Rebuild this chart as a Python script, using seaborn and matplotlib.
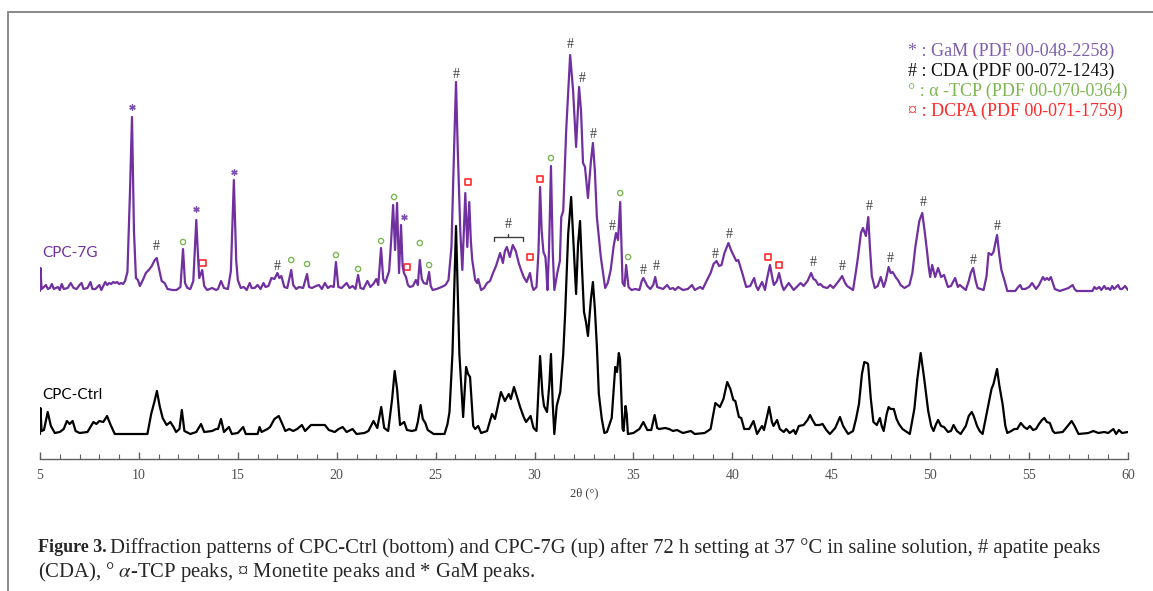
import numpy as np
import pandas as pd
import matplotlib
matplotlib.use("Agg")
import matplotlib.pyplot as plt
from matplotlib.lines import Line2D
import seaborn as sns

# ---- data (2theta in degrees, intensity in a.u. above each pattern's baseline) ----
ctrl_2theta = [5.00, 5.02, 5.08, 5.20, 5.39, 5.55, 5.75, 6.0, 6.2, 6.36, 6.5, 6.65, 6.8, 7.0, 7.4, 7.7, 7.85, 8.0,
               8.2, 8.39, 8.55, 8.78, 10.43, 10.62, 10.78, 10.91, 11.05, 11.2, 11.4, 11.59, 11.75, 11.88, 12.05,
               12.17, 12.3, 12.6, 12.9, 13.14, 13.3, 13.7, 13.9, 14.0, 14.15, 14.3, 14.55, 14.7, 15.0, 15.27, 15.4,
               16.0, 16.1, 16.2, 16.5, 16.63, 16.85, 17.07, 17.25, 17.4, 17.6, 17.8, 18.0, 18.24, 18.4, 18.7, 19.0,
               19.4, 19.6, 19.9, 20.1, 20.3, 20.5, 20.8, 21.0, 21.4, 21.6, 21.86, 22.05, 22.25, 22.4, 22.6, 22.8,
               22.93, 23.05, 23.2, 23.41, 23.55, 23.8, 24.0, 24.1, 24.24, 24.35, 24.48, 24.6, 24.9, 25.45, 25.6,
               25.7, 25.85, 26.03, 26.2, 26.39, 26.54, 26.64, 26.74, 26.9, 27.0, 27.15, 27.3, 27.6, 27.85, 28.0,
               28.3, 28.5, 28.7, 28.8, 28.96, 29.1, 29.27, 29.45, 29.57, 29.8, 29.95, 30.1, 30.28, 30.4, 30.48,
               30.63, 30.75, 30.83, 30.92, 31.0, 31.12, 31.3, 31.45, 31.55, 31.7, 31.85, 32.0, 32.1, 32.2, 32.3,
               32.4, 32.5, 32.6, 32.7, 32.85, 32.95, 33.05, 33.15, 33.25, 33.4, 33.53, 33.66, 33.9, 34.08, 34.17,
               34.26, 34.32, 34.45, 34.5, 34.6, 34.66, 34.72, 35.0, 35.3, 35.5, 35.7, 35.9, 36.07, 36.2, 36.3, 36.6,
               36.8, 37.0, 37.2, 37.5, 37.9, 38.1, 38.6, 38.9, 39.14, 39.37, 39.55, 39.74, 39.9, 40.05, 40.15,
               40.33, 40.45, 40.6, 40.85, 41.07, 41.25, 41.4, 41.5, 41.6, 41.86, 42.0, 42.08, 42.26, 42.4, 42.6,
               42.72, 42.9, 43.1, 43.2, 43.36, 43.6, 43.8, 43.93, 44.05, 44.2, 44.4, 44.56, 44.75, 44.93, 45.2,
               45.44, 45.6, 45.85, 46.1, 46.25, 46.4, 46.55, 46.67, 46.8, 46.86, 47.0, 47.13, 47.3, 47.46, 47.55,
               47.65, 47.8, 47.9, 48.0, 48.16, 48.3, 48.42, 48.6, 48.97, 49.2, 49.35, 49.52, 49.7, 49.9, 50.05,
               50.17, 50.3, 50.4, 50.55, 50.7, 50.9, 51.05, 51.18, 51.35, 51.54, 51.8, 51.95, 52.1, 52.2, 52.37,
               52.5, 52.65, 52.9, 53.1, 53.2, 53.38, 53.5, 53.66, 53.8, 53.9, 54.1, 54.26, 54.4, 54.58, 54.75, 54.9,
               55.04, 55.2, 55.35, 55.5, 55.65, 55.77, 55.9, 56.05, 56.2, 56.3, 56.7, 56.95, 57.15, 57.3, 57.5,
               58.0, 58.25, 58.5, 58.8, 59.0, 59.26, 59.4, 59.54, 59.7, 60.0]
ctrl_int = [0, 26, 3, 4, 22, 8, 1, 2, 5, 13, 10, 13, 3, 1, 2, 12, 10, 13,
            12, 18, 10, 0, 0, 20, 32, 43, 28, 16, 9, 12, 7, 2, 5,
            24, 3, 0, 2, 10, 2, 3, 5, 5, 15, 2, 7, 0, 1, 7, 0,
            0, 7, 2, 5, 7, 15, 18, 10, 3, 5, 3, 5, 9, 3, 9, 9,
            9, 4, 2, 5, 7, 2, 5, 0, 1, 3, 13, 6, 27, 6, 3, 35,
            63, 45, 9, 12, 4, 3, 4, 12, 29, 15, 11, 4, 0, 0, 10,
            22, 80, 208, 80, 17, 67, 60, 57, 8, 5, 8, 1, 3, 20, 15,
            42, 33, 40, 35, 47, 38, 27, 17, 12, 18, 6, 3, 78, 40, 28,
            22, 50, 80, 30, 0, 28, 42, 80, 122, 200, 237, 180, 140, 190, 213,
            165, 122, 112, 98, 135, 152, 125, 88, 40, 15, 1, 2, 16, 67, 62,
            81, 75, 5, 3, 28, 20, 0, 1, 5, 12, 4, 4, 19, 6, 5, 6,
            5, 3, 4, 1, 3, 0, 1, 5, 31, 27, 35, 52, 45, 34, 33,
            17, 16, 5, 5, 13, 0, 5, 8, 4, 27, 12, 8, 14, 5, 2,
            5, 1, 4, 0, 8, 9, 14, 19, 14, 9, 9, 10, 4, 0, 6,
            17, 8, 0, 3, 15, 30, 60, 72, 71, 70, 35, 12, 9, 16, 8,
            3, 20, 27, 25, 25, 15, 10, 5, 0, 25, 55, 81, 55, 23, 8,
            3, 10, 14, 8, 7, 2, 3, 9, 3, 0, 8, 18, 22, 18, 8,
            3, 0, 25, 45, 50, 65, 48, 30, 8, 1, 3, 5, 5, 11, 7, 5,
            8, 4, 5, 10, 14, 16, 12, 11, 3, 1, 2, 8, 13, 8, 0,
            1, 3, 1, 2, 1, 5, 0, 4, 1, 2]

g7_2theta = [5.00, 5.02, 5.08, 5.2, 5.3, 5.4, 5.5, 5.6, 5.7, 5.9, 6.0, 6.1, 6.2, 6.4, 6.55, 6.7, 6.85, 7.0, 7.1,
             7.2, 7.4, 7.55, 7.65, 7.8, 8.0, 8.1, 8.3, 8.4, 8.5, 8.6, 8.7, 8.8, 8.9, 9.0, 9.1, 9.2, 9.3, 9.42,
             9.55, 9.65, 9.75, 9.85, 9.95, 10.05, 10.2, 10.35, 10.5, 10.65, 10.8, 10.9, 11.0, 11.15, 11.3, 11.45,
             11.7, 11.9, 12.1, 12.23, 12.33, 12.45, 12.6, 12.75, 12.9, 13.0, 13.05, 13.2, 13.3, 13.45, 13.7,
             13.9, 14.0, 14.15, 14.3, 14.5, 14.65, 14.8, 14.92, 15.0, 15.15, 15.3, 15.45, 15.6, 15.7, 15.85, 16.0,
             16.15, 16.3, 16.4, 16.55, 16.7, 16.85, 17.0, 17.1, 17.2, 17.35, 17.5, 17.7, 17.8, 17.95, 18.1, 18.3,
             18.5, 18.6, 18.75, 18.95, 19.1, 19.25, 19.4, 19.55, 19.7, 19.85, 19.96, 20.08, 20.25, 20.5, 20.65,
             20.8, 20.95, 21.08, 21.2, 21.35, 21.55, 21.7, 21.85, 22.0, 22.1, 22.24, 22.35, 22.45, 22.65, 22.75,
             22.85, 22.95, 23.05, 23.15, 23.25, 23.33, 23.4, 23.5, 23.6, 23.7, 23.85, 24.0, 24.1, 24.2, 24.3,
             24.4, 24.55, 24.67, 24.75, 24.85, 25.05, 25.3, 25.5, 25.65, 25.8, 25.93, 26.03, 26.12, 26.25, 26.35,
             26.5, 26.6, 26.7, 26.78, 26.85, 27.0, 27.1, 27.15, 27.3, 27.45, 27.6, 27.75, 27.9, 28.05, 28.26,
             28.4, 28.5, 28.6, 28.75, 28.9, 29.05, 29.2, 29.3, 29.45, 29.6, 29.77, 29.88, 29.95, 30.1, 30.2,
             30.28, 30.36, 30.45, 30.55, 30.6, 30.65, 30.73, 30.83, 30.92, 31.0, 31.15, 31.28, 31.35, 31.45,
             31.6, 31.8, 31.95, 32.1, 32.25, 32.35, 32.45, 32.55, 32.7, 32.85, 32.95, 33.05, 33.15, 33.35, 33.57,
             33.7, 33.85, 34.0, 34.12, 34.22, 34.33, 34.45, 34.55, 34.63, 34.75, 34.9, 35.1, 35.3, 35.42, 35.5,
             35.6, 35.7, 35.85, 36.0, 36.1, 36.2, 36.35, 36.5, 36.7, 36.85, 37.0, 37.1, 37.26, 37.5, 37.75,
             37.96, 38.1, 38.37, 38.5, 38.72, 38.9, 39.05, 39.2, 39.33, 39.45, 39.6, 39.8, 39.95, 40.05, 40.2,
             40.3, 40.5, 40.7, 40.9, 41.1, 41.2, 41.3, 41.5, 41.65, 41.75, 41.9, 42.05, 42.1, 42.25, 42.36, 42.5,
             42.6, 42.85, 43.1, 43.3, 43.45, 43.6, 43.8, 43.98, 44.1, 44.2, 44.35, 44.45, 44.6, 44.8, 44.95,
             45.1, 45.3, 45.45, 45.55, 45.7, 45.8, 46.1, 46.25, 46.35, 46.5, 46.6, 46.75, 46.87, 46.95, 47.05,
             47.2, 47.35, 47.5, 47.65, 47.75, 47.9, 48.0, 48.1, 48.25, 48.4, 48.5, 48.7, 48.95, 49.1, 49.25,
             49.45, 49.6, 49.75, 49.85, 49.92, 50.0, 50.1, 50.25, 50.4, 50.55, 50.7, 50.9, 51.05, 51.26, 51.4,
             51.5, 51.8, 51.95, 52.05, 52.17, 52.3, 52.4, 52.7, 52.85, 52.95, 53.1, 53.2, 53.38, 53.5, 53.6,
             53.75, 53.9, 54.3, 54.45, 54.55, 54.65, 54.8, 55.0, 55.15, 55.35, 55.5, 55.7, 55.8, 55.9, 56.0,
             56.1, 56.3, 56.55, 57.0, 57.2, 57.3, 57.4, 58.2, 58.3, 58.4, 58.55, 58.65, 58.8, 58.9, 59.0, 59.1,
             59.2, 59.3, 59.5, 59.6, 59.7, 59.85, 60.0]
g7_int = [0, 23, 2, 4, 6, 2, 3, 7, 2, 4, 1, 7, 2, 3, 8, 3, 2, 6, 8,
          2, 3, 9, 2, 2, 6, 1, 9, 6, 8, 7, 9, 8, 9, 7, 8, 7, 10, 19,
          100, 174, 60, 13, 11, 5, 11, 18, 21, 25, 31, 33, 24, 10, 8, 2,
          1, 1, 4, 42, 8, 3, 2, 10, 71, 30, 13, 21, 5, 1, 3,
          1, 2, 10, 3, 2, 20, 111, 30, 11, 3, 4, 1, 8, 3, 3, 6,
          2, 8, 4, 5, 13, 12, 18, 13, 15, 4, 3, 21, 6, 2, 4, 3,
          17, 4, 3, 5, 6, 2, 8, 3, 5, 4, 29, 4, 3, 8, 3,
          5, 2, 16, 3, 2, 10, 4, 7, 12, 6, 43, 12, 8, 20, 50,
          86, 41, 88, 18, 66, 25, 18, 14, 6, 4, 5, 11, 6, 31, 12,
          8, 7, 19, 5, 1, 2, 4, 6, 11, 44, 140, 209, 140, 58, 21,
          98, 44, 89, 50, 31, 11, 8, 12, 1, 3, 8, 10, 18, 25, 38,
          28, 40, 44, 34, 46, 40, 28, 22, 14, 9, 18, 5, 1, 4, 40,
          104, 60, 39, 34, 20, 1, 40, 125, 40, 1, 18, 30, 74, 80,
          161, 236, 200, 144, 204, 180, 128, 124, 93, 130, 148, 120, 74, 34, 3,
          8, 21, 45, 58, 51, 89, 8, 5, 26, 4, 1, 2, 1, 10, 13,
          9, 5, 2, 6, 14, 4, 3, 2, 6, 2, 3, 1, 4, 1, 2,
          6, 1, 4, 2, 11, 18, 27, 30, 25, 26, 38, 48, 40, 36, 30,
          31, 18, 4, 5, 13, 5, 1, 9, 1, 12, 26, 10, 6, 10, 18, 6,
          1, 8, 1, 5, 8, 5, 10, 18, 12, 11, 6, 7, 4, 3, 6,
          3, 8, 12, 15, 8, 5, 1, 20, 34, 58, 63, 55, 74, 45, 15,
          3, 5, 14, 4, 10, 24, 18, 19, 14, 10, 6, 3, 6, 18, 44,
          70, 78, 55, 38, 25, 14, 26, 14, 23, 14, 16, 4, 5, 13, 4,
          6, 1, 10, 18, 23, 10, 3, 1, 15, 38, 36, 39, 56, 35, 21,
          11, 0, 0, 4, 6, 2, 2, 4, 8, 2, 6, 14, 11, 13, 11,
          14, 2, 0, 3, 6, 2, 0, 0, 4, 2, 4, 1, 5, 2, 3, 1,
          5, 2, 6, 2, 2, 5, 1]

# phase marks on the CPC-7G pattern: position, height above baseline, phase
mark_2theta = [9.65, 10.9, 12.23, 12.9, 13.2, 14.8, 17.0, 17.7, 18.5, 19.96, 21.08, 22.24, 22.9, 23.4, 23.55,
               24.2, 24.67, 26.03, 26.64, 29.77, 30.28, 30.83, 31.8, 32.4, 32.96, 33.92, 34.33, 34.73, 35.48,
               36.14, 39.13, 39.83, 41.8, 42.36, 44.08, 45.55, 46.9, 48.0, 49.65, 52.17, 53.38]
mark_height = [184, 45, 49, 82, 28, 119, 24, 31, 27, 36, 22, 50, 94, 74, 24,
               48, 26, 217, 109, 34, 112, 133, 246, 213, 156, 64, 98, 34, 20,
               24, 37, 56, 34, 26, 28, 25, 84, 32, 89, 30, 64]
mark_phase = ["GaM", "CDA", "TCP", "GaM", "DCPA", "GaM", "CDA", "TCP", "TCP", "TCP", "TCP", "TCP", "TCP", "GaM", "DCPA",
              "TCP", "TCP", "CDA", "DCPA", "DCPA", "DCPA", "TCP", "CDA", "CDA", "CDA", "CDA", "TCP", "TCP", "CDA",
              "CDA", "CDA", "CDA", "DCPA", "DCPA", "CDA", "CDA", "CDA", "CDA", "CDA", "CDA", "CDA"]
# broad CDA band between 28 and 29.4 deg
cda_band = [27.95, 29.4]
cda_band_height = 54

legend_symbols = ["*", "#", "°", "¤"]
legend_labels = ["GaM (PDF 00-048-2258)", "CDA (PDF 00-072-1243)", "α -TCP (PDF 00-070-0364)", "DCPA (PDF 00-071-1759)"]

# ---- styling ----
PURPLE = "#7030A0"
GREEN = "#7DB653"
RED = "#FF2A2A"
GREY = "#404040"
legend_colors = ["#7F5FAE", "#111111", GREEN, RED]

CTRL_OFFSET = 25
G7_OFFSET = 168

sns.set_style("white")
plt.rcParams["font.family"] = ["Liberation Serif", "DejaVu Serif"]
plt.rcParams["mathtext.fontset"] = "stix"

W, H = 1153, 591
fig = plt.figure(figsize=(W / 100, H / 100), dpi=100)
fig.patch.set_facecolor("white")

ax = fig.add_axes([40 / W, 1 - 459 / H, 1088 / W, 439 / H])
ax.set_facecolor("none")

ctrl = pd.DataFrame({"two_theta": ctrl_2theta, "intensity": np.array(ctrl_int) + CTRL_OFFSET})
g7 = pd.DataFrame({"two_theta": g7_2theta, "intensity": np.array(g7_int) + G7_OFFSET})

sns.lineplot(data=ctrl, x="two_theta", y="intensity", color="black", lw=1.6,
             sort=False, estimator=None, ax=ax)
sns.lineplot(data=g7, x="two_theta", y="intensity", color=PURPLE, lw=1.6,
             sort=False, estimator=None, ax=ax)

# phase marks
marks = pd.DataFrame({"x": mark_2theta, "y": np.array(mark_height) + G7_OFFSET, "phase": mark_phase})
for _, r in marks[marks.phase == "CDA"].iterrows():
    ax.text(r.x, r.y, "#", color=GREY, fontsize=10, ha="center", va="center")
sns.scatterplot(data=marks[marks.phase == "GaM"], x="x", y="y", marker=(6, 2, 0), s=15,
                color="#8050B0", linewidth=1.0, ax=ax, legend=False)
sns.scatterplot(data=marks[marks.phase == "TCP"], x="x", y="y", marker="o", s=14,
                facecolor="none", edgecolor=GREEN, linewidth=1.0, ax=ax, legend=False)
sns.scatterplot(data=marks[marks.phase == "DCPA"], x="x", y="y", marker="s", s=24,
                facecolor="none", edgecolor=RED, linewidth=1.2, ax=ax, legend=False)

# bracket over the broad CDA band
by = cda_band_height + G7_OFFSET
bmid = (cda_band[0] + cda_band[1]) / 2
ax.plot([cda_band[0], cda_band[0], cda_band[1], cda_band[1]], [by - 4, by, by, by - 4], color=GREY, lw=1)
ax.plot([bmid, bmid], [by, by + 3], color=GREY, lw=1)
ax.text(bmid, by + 13, "#", color=GREY, fontsize=10, ha="center", va="center")

# sample labels
ax.text(5.12, 459 - 253, "CPC-7G", color=PURPLE, fontsize=11, family="Lato", va="center", ha="left")
ax.text(5.12, 459 - 395, "CPC-Ctrl", color="black", fontsize=11, family="Lato", va="center", ha="left")

# axes
ax.set_xlim(5, 60)
ax.set_ylim(0, 439)
ax.set_xticks(range(5, 61, 5))
ax.set_xticks(range(5, 61, 1), minor=True)
ax.set_yticks([])
for s in ["left", "right", "top"]:
    ax.spines[s].set_visible(False)
ax.spines["bottom"].set_color("#606060")
ax.spines["bottom"].set_linewidth(1.0)
ax.tick_params(axis="x", which="major", direction="in", length=5, width=1, color="#606060",
               labelsize=10, labelcolor="#505050", pad=7, bottom=True)
ax.tick_params(axis="x", which="minor", direction="in", length=3.5, width=0.8, color="#606060", bottom=True)
ax.set_xlabel("2θ (°)", fontsize=9, color="#404040", labelpad=4)
ax.set_ylabel("")

# legend block
for i, (sym, lab, col) in enumerate(zip(legend_symbols, legend_labels, legend_colors)):
    fig.text(908 / W, 1 - (51 + 20 * i) / H, f"{sym} : {lab}", color=col, fontsize=13,
             ha="left", va="center")

# frame (top and left edges visible in the crop)
fig.add_artist(Line2D([8 / W, 8 / W], [0, 1 - 12 / H], color="#8a8a8a", lw=1.4, transform=fig.transFigure))
fig.add_artist(Line2D([8 / W, 1], [1 - 12 / H, 1 - 12 / H], color="#8a8a8a", lw=1.4, transform=fig.transFigure))

# caption
cap_y1 = 1 - 548 / H
cap_y2 = 1 - 572 / H
t0 = fig.text(38 / W, cap_y1, "Figure 3.", fontsize=13, fontweight="bold", ha="left", va="center")
fig.canvas.draw()
bb = t0.get_window_extent()
fig.text((bb.x1 + 3) / W, cap_y1,
         "Diffraction patterns of CPC-Ctrl (bottom) and CPC-7G (up) after 72 h setting at 37 °C in saline solution, # apatite peaks",
         fontsize=14.85, ha="left", va="center")
fig.text(38 / W, cap_y2, "(CDA), ° $\\alpha$-TCP peaks, ¤ Monetite peaks and * GaM peaks.",
         fontsize=14.85, ha="left", va="center")

fig.savefig("out.png", dpi=100, facecolor="white")
